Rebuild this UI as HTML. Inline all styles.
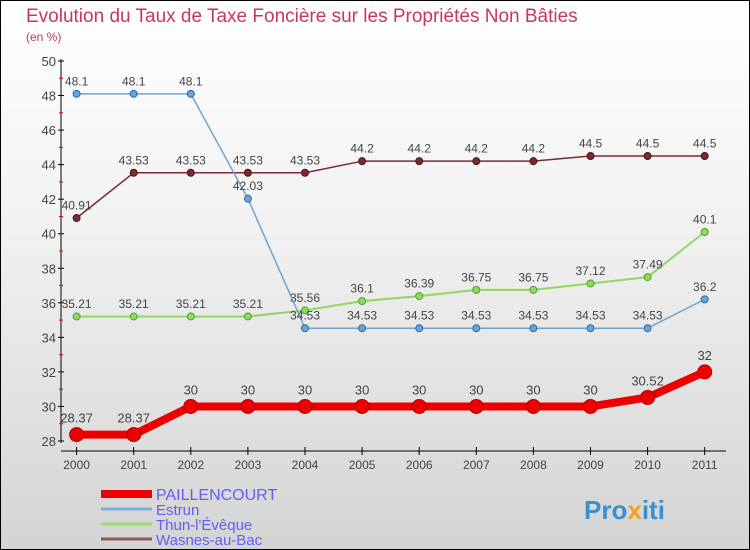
<!DOCTYPE html>
<html><head><meta charset="utf-8"><style>
body{margin:0}
#c{position:relative;width:748px;height:548px;border:1px solid #000;background:linear-gradient(#fff,#f2f2f2 40%,#d4d4d4);font-family:"Liberation Sans",sans-serif;overflow:hidden}
svg text{font-family:"Liberation Sans",sans-serif}
</style></head><body>
<div id="c">
<svg id="s" width="748" height="548">
<text x="25" y="21" font-size="19" fill="#c8356a">Evolution du Taux de Taxe Foncière sur les Propriétés Non Bâties</text>
<text x="25" y="40" font-size="12" fill="#c8356a">(en %)</text>
<text x="583" y="518" font-size="26" font-weight="bold" fill="#3a8fd0">Pro<tspan fill="#f0a020">x</tspan>iti</text>
</svg></div>
<script>
const years=["2000","2001","2002","2003","2004","2005","2006","2007","2008","2009","2010","2011"];
const yTicks=[28,30,32,34,36,38,40,42,44,46,48,50];
const paillencourt=[28.37,28.37,30,30,30,30,30,30,30,30,30.52,32];
const estrun=[48.1,48.1,48.1,42.03,34.53,34.53,34.53,34.53,34.53,34.53,34.53,36.2];
const thun=[35.21,35.21,35.21,35.21,35.56,36.1,36.39,36.75,36.75,37.12,37.49,40.1];
const wasnes=[40.91,43.53,43.53,43.53,43.53,44.2,44.2,44.2,44.2,44.5,44.5,44.5];
const s=document.getElementById('s'),NS='http://www.w3.org/2000/svg';
const X=i=>75.6+i*57.1, Y=v=>440-(v-28)*380/22;
function el(t,a,p){const e=document.createElementNS(NS,t);for(const k in a)e.setAttribute(k,a[k]);(p||s).appendChild(e);return e;}
let ax=el('line',{x1:60,y1:58,x2:60,y2:442,stroke:'#000'});


let xa=el('line',{x1:60,y1:450,x2:725,y2:450,stroke:'#000'});


yTicks.forEach((v,i)=>{
 el('line',{x1:57,y1:Y(v),x2:63,y2:Y(v),stroke:'#000'});
 if(i<yTicks.length-1)el('line',{x1:58,y1:Y(v+1),x2:62,y2:Y(v+1),stroke:'#e00'});
 let t=el('text',{x:55,y:Y(v)+5,'font-size':13,'text-anchor':'end',fill:'#444'});t.textContent=v;
 
 
});
years.forEach((y,i)=>{
 el('line',{x1:X(i),y1:446,x2:X(i),y2:454,stroke:'#000'});
 let t=el('text',{x:X(i),y:468,'font-size':12,'text-anchor':'middle',fill:'#444'});t.textContent=y;
 
 
});
function series(d,col,dark,w,r,name,fs){
 const g=el('g',{});
 
 
 el('polyline',{points:d.map((v,i)=>X(i)+','+Y(v)).join(' '),fill:'none',stroke:col,'stroke-width':w,'stroke-linejoin':'round'},g);
 d.forEach((v,i)=>{
  const c=el('circle',{cx:X(i),cy:Y(v),r:r,fill:col,stroke:dark,'stroke-width':1},g);
  
  
  const t=el('text',{x:X(i),y:Y(v)-r-5,'font-size':fs,'text-anchor':'middle',fill:'#444'},g);t.textContent=v;
  
  
 });
}
series(wasnes,'#7a2a30','#4a1418',1.5,3.5,'wasnes-series',12);
series(thun,'#90d860','#50a030',2,3.5,'thun-series',12);
series(estrun,'#6aa4d4','#2a6ca4',1.5,3.5,'estrun-series',12);
series(paillencourt,'#ee0000','#b00000',8,7,'paillencourt-series',13);
const leg=[['PAILLENCOURT','#ee0000',8],['Estrun','#7ab0d8',3],['Thun-l\'Évêque','#98dd70',3],['Wasnes-au-Bac','#8c5a5a',3]];
leg.forEach((l,i)=>{
 const y=493+i*15;
 const g=el('g',{});
 
 
 el('line',{x1:100,y1:y,x2:151,y2:y,stroke:l[1],'stroke-width':l[2]},g);
 const t=el('text',{x:155,y:y+6,'font-size':i?15:16,fill:'#6060f0'},g);t.textContent=l[0];
});
</script></body></html>
